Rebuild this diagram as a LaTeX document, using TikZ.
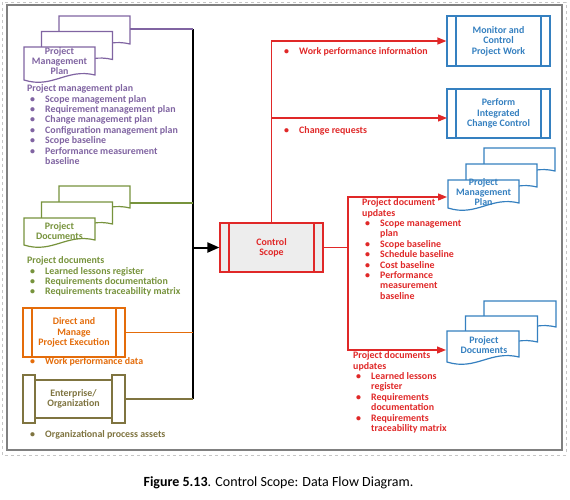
\documentclass[tikz,border=0pt]{standalone}
\usepackage{fontspec}
\setmainfont{Carlito}
\usetikzlibrary{arrows.meta}
\definecolor{cpur}{HTML}{8064A2}
\definecolor{cgrn}{HTML}{77933C}
\definecolor{corg}{HTML}{E46C0A}
\definecolor{coli}{HTML}{7F7440}
\definecolor{cred}{HTML}{E02828}
\definecolor{cblu}{HTML}{3580C0}
\definecolor{cfill}{HTML}{EDEDED}
\newcommand\bl{\hspace*{3pt}\makebox[15pt][l]{\textbullet}}
\newcommand\ind{\hspace*{18pt}}
% one page: x y w h colour
\newcommand\pg[5]{\draw[#5,fill=white,line width=1.2pt] (#1,#2) -- (#1+#3,#2) -- (#1+#3,#2+#4-5) .. controls (#1+0.6*#3,#2+#4-12) and (#1+0.4*#3,#2+#4+9) .. (#1,#2+#4) -- cycle;}
% stack of three pages: x y w h dx dy colour
\newcommand\mdoc[7]{\pg{#1+2*#5}{#2-2*#6}{#3}{#4}{#7}\pg{#1+#5}{#2-#6}{#3}{#4}{#7}\pg{#1}{#2}{#3}{#4}{#7}}
\begin{document}
\begin{tikzpicture}[x=1pt,y=-1pt,
  font=\fontsize{9.9}{10.4}\selectfont\bfseries,
  procbox/.style={draw=#1,text=#1,line width=1.2pt,align=center,inner sep=0pt,
    path picture={\draw[#1,line width=1.2pt]
      ([xshift=9pt]path picture bounding box.north west) -- ([xshift=9pt]path picture bounding box.south west)
      ([xshift=-9pt]path picture bounding box.north east) -- ([xshift=-9pt]path picture bounding box.south east);}},
  lbl/.style={text=#1,anchor=north west,align=left,inner sep=0pt},
  doctext/.style={text=#1,align=center,inner sep=0pt},
  conn/.style={draw=#1,line width=1.2pt},
  redarr/.style={draw=cred,line width=1.2pt,-{Triangle[length=9pt,width=7pt]}}]
\fill[white] (0,0) rectangle (570,499);
\useasboundingbox (0,0) rectangle (570,499);
% frames
\draw[gray!45,dashed,line width=0.6pt] (2,2) rectangle (566,455);
\draw[gray,line width=1.5pt] (7,5) rectangle (562,450);

% ---------- left side inputs ----------
\mdoc{24}{47}{71}{33}{17.5}{15.5}{cpur}
\node[doctext=cpur] (pmpL) at (59.5,61) {Project\\Management\\Plan};
\coordinate (pmpLout) at (130,29);
\node[lbl=cpur] (pmpLbl) at (27,84.5) {Project management plan\\
\bl Scope management plan\\
\bl Requirement management plan\\
\bl Change management plan\\
\bl Configuration management plan\\
\bl Scope baseline\\
\bl Performance measurement\\
\ind baseline};

\mdoc{24}{218}{71}{27}{17.5}{16}{cgrn}
\node[doctext=cgrn] (pdL) at (59.5,231) {Project\\Documents};
\coordinate (pdLout) at (130,203);
\node[lbl=cgrn] (pdLbl) at (27,256.5) {Project documents\\
\bl Learned lessons register\\
\bl Requirements documentation\\
\bl Requirements traceability matrix};

\node[procbox=corg,minimum width=102pt,minimum height=49pt] (dm) at (74,332.5) {Direct and\\Manage\\Project Execution};
\node[lbl=corg] (dmLbl) at (27,357.5) {\bl Work performance data};

\node[draw=coli,line width=1.2pt,minimum width=77pt,minimum height=38pt,inner sep=0pt,text=coli,align=center] (ent) at (73.5,399) {Enterprise/\\Organization};
\node[draw=coli,line width=1.2pt,minimum width=12pt,minimum height=48pt,inner sep=0pt] (entL) at (29,399) {};
\node[draw=coli,line width=1.2pt,minimum width=13pt,minimum height=48pt,inner sep=0pt] (entR) at (118.5,399) {};
\node[lbl=coli] (entLbl) at (27,430.5) {\bl Organizational process assets};

% bus
\coordinate (busTop) at (193,29);
\coordinate (busBot) at (193,399);
\draw[black,line width=2pt] (busTop) -- (busBot);
\draw[conn=cpur] (pmpLout) -- (pmpLout -| busTop);
\draw[conn=cgrn] (pdLout) -- (pdLout -| busTop);
\draw[conn=corg] (dm.east) -- (dm.east -| busTop);
\draw[conn=coli] (entR.east) -- (entR.east -| busTop);

% control scope
\node[procbox=cred,fill=cfill,minimum width=103pt,minimum height=49pt] (cs) at (271.5,247.5) {Control\\Scope};
\draw[black,line width=2pt,-{Triangle[length=12pt,width=10pt]}] (cs.west -| busTop) -- (cs.west);

% ---------- right side outputs ----------
\node[procbox=cblu,minimum width=103pt,minimum height=50pt] (mon) at (498.5,41) {Monitor and\\Control\\Project Work};
\node[procbox=cblu,minimum width=103pt,minimum height=49pt] (perf) at (498.5,113.5) {Perform\\Integrated\\Change Control};
\coordinate (perfIn) at (447,118);

\draw[redarr] (cs.north) |- (mon.west);
\draw[redarr] (cs.north |- perfIn) -- (perfIn);
\node[lbl=cred] (wpi) at (281,47.5) {\bl Work performance information};
\node[lbl=cred] (cr) at (281,126.5) {\bl Change requests};

\mdoc{448}{180}{71}{28}{18}{16}{cblu}
\node[doctext=cblu] (pmpR) at (483.5,192) {Project\\Management\\Plan};
\mdoc{447}{331}{72}{31}{18.5}{15}{cblu}
\node[doctext=cblu] (pdR) at (484,345) {Project\\Documents};

\coordinate (jn) at (348,247.5);
\coordinate (pmpRin) at (447,197);
\coordinate (pdRin) at (446,350);
\draw[conn=cred] (cs.east) -- (jn);
\draw[redarr] (jn) |- (pmpRin);
\draw[redarr] (jn) |- (pdRin);

\node[lbl=cred] (pmpRLbl) at (362,198.5) {Project document\\updates\\
\bl Scope management\\
\ind plan\\
\bl Scope baseline\\
\bl Schedule baseline\\
\bl Cost baseline\\
\bl Performance\\
\ind measurement\\
\ind baseline};

\node[lbl=cred] (pdRLbl) at (353,351.5) {Project documents\\updates\\
\bl Learned lessons\\
\ind register\\
\bl Requirements\\
\ind documentation\\
\bl Requirements\\
\ind traceability matrix};

% caption
\node[font=\fontsize{14}{16}\selectfont] (cap) at (278.5,483) {\textbf{Figure 5.13}. Control Scope: Data Flow Diagram.};
\end{tikzpicture}
\end{document}
